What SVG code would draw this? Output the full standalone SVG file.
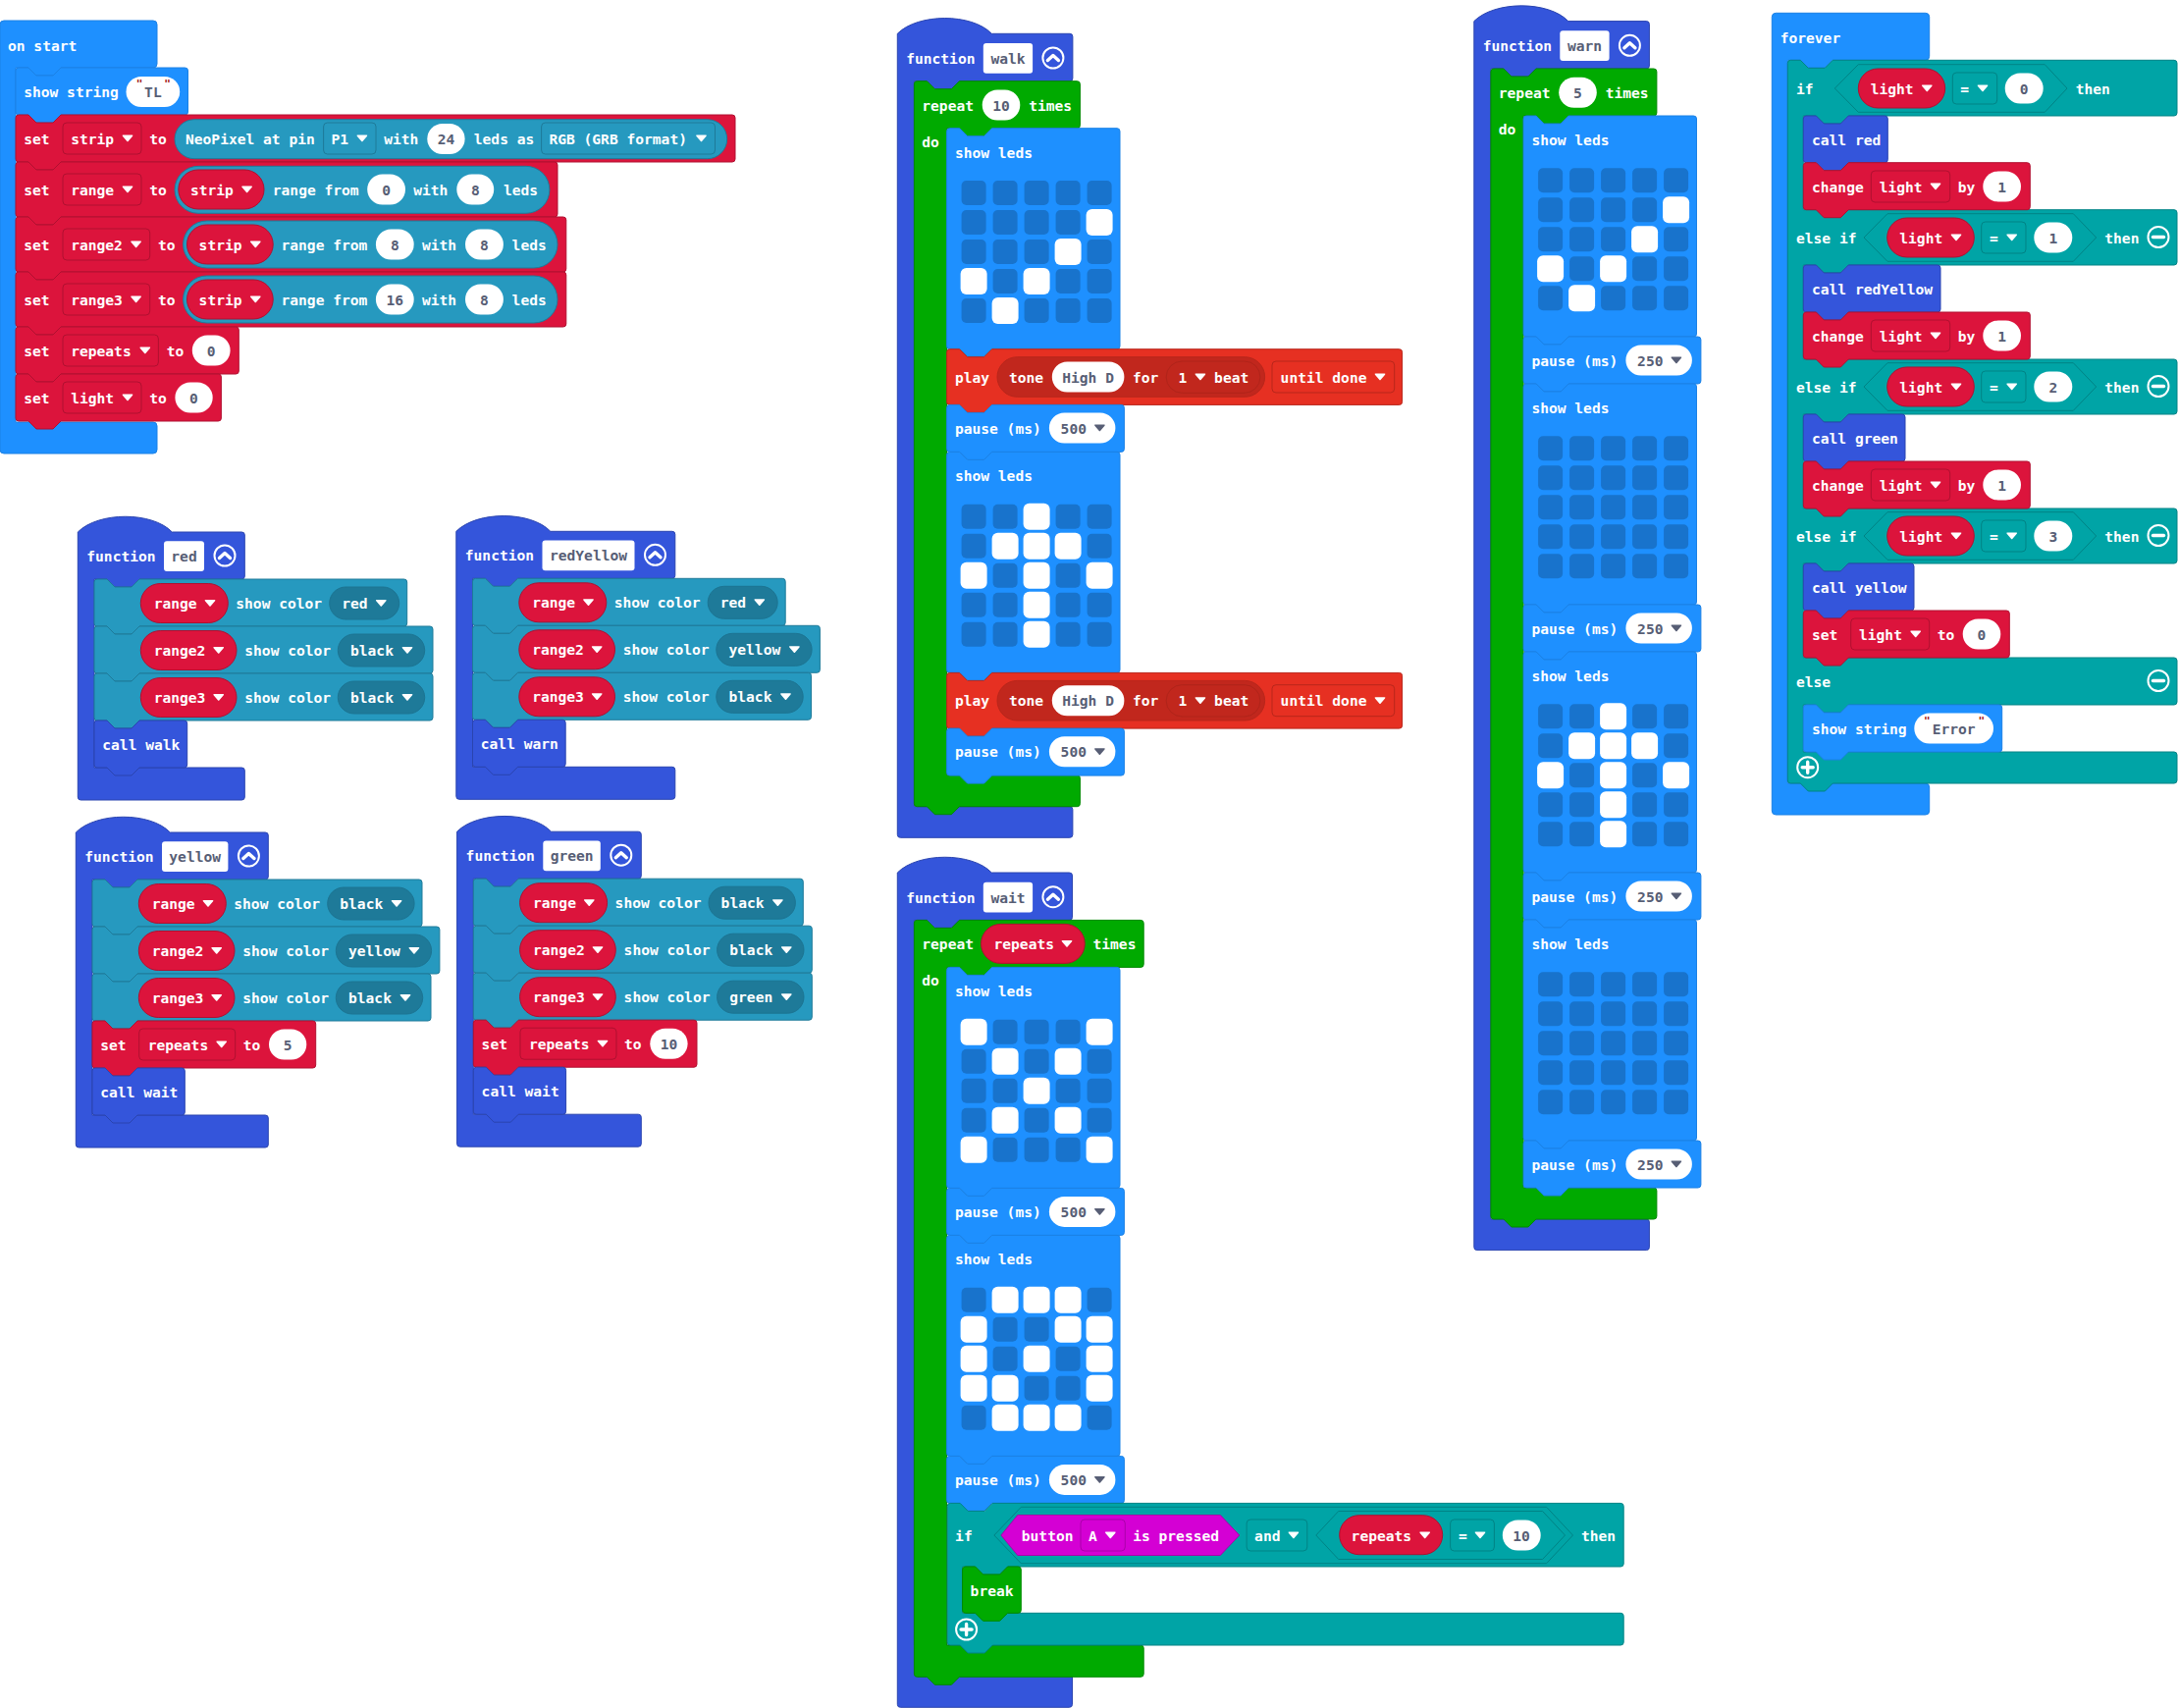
<svg xmlns="http://www.w3.org/2000/svg" width="2219" height="1740" viewBox="0 0 2219 1740">
<style>
text{font:bold 14.6px "DejaVu Sans Mono","Liberation Mono",monospace;fill:#fff;transform:translateY(.6px)}
.v{fill:#575E75;text-anchor:middle}
.q{fill:#A31515;font-size:11px;text-anchor:middle}
.ev{fill:#1E90FF;stroke:#1b81e5}
.var{fill:#DC143C;stroke:#B01030}
.np{fill:#2699BF;stroke:#1E7A99}
.fn{fill:#3455DB;stroke:#2A44AF}
.lp{fill:#00AA00;stroke:#008800}
.lg{fill:#00A4A6;stroke:#008385}
.mu{fill:#E63022;stroke:#B8261B}
.in{fill:#D400D4;stroke:#AA00AA}
.p{fill:#fff;height:31px;rx:15.5px}
.n{fill:#fff;height:30.7px;rx:3px}
.pr{fill:#DC143C;stroke:#B01030;height:40px;rx:20px}
.dn{fill:#1E7A99;stroke:#1C7492;height:33px;rx:16.5px}
.d{height:32px;rx:4px;fill:none}
.dv{stroke:#B01030}.dn2{stroke:#1E7A99}.dl{stroke:#008385}.dm{stroke:#B8261B}.di{stroke:#AA00AA}
.h{fill:#00A4A6;stroke:#008385}
use{fill:#fff}
.dk{fill:#575E75}
.ic{fill:none;stroke:#fff;stroke-width:2}
.ib{fill:none;stroke:#fff;stroke-width:3.4;stroke-linecap:round;stroke-linejoin:round}
.c{fill:#1873CC}
</style>
<defs>
<path id="a" d="M-4.5-3.5h9q1.5 0 .6 1.3L.8 2.8q-.8 1-1.6 0L-5.1-2.2q-.9-1.3.6-1.3z"/>
<g id="ex"><circle class="ic" r="10.5"/><path class="ib" d="M-5.5 2.5L0-2.5L5.5 2.5"/></g>
<g id="mi"><circle class="ic" r="10.5"/><path class="ib" d="M-5.5 0H5.5"/></g>
<g id="pl"><circle class="ic" r="10.5"/><path class="ib" d="M-5.5 0H5.5M0-5.5V5.5"/></g>
<rect id="w" x="-1" y="-1" width="27" height="27" rx="6" fill="#fff"/>
<g id="grid" class="c">
<rect width="25" height="25" rx="5"/><rect x="32" width="25" height="25" rx="5"/><rect x="64" width="25" height="25" rx="5"/><rect x="96" width="25" height="25" rx="5"/><rect x="128" width="25" height="25" rx="5"/>
<rect y="30" width="25" height="25" rx="5"/><rect x="32" y="30" width="25" height="25" rx="5"/><rect x="64" y="30" width="25" height="25" rx="5"/><rect x="96" y="30" width="25" height="25" rx="5"/><rect x="128" y="30" width="25" height="25" rx="5"/>
<rect y="60" width="25" height="25" rx="5"/><rect x="32" y="60" width="25" height="25" rx="5"/><rect x="64" y="60" width="25" height="25" rx="5"/><rect x="96" y="60" width="25" height="25" rx="5"/><rect x="128" y="60" width="25" height="25" rx="5"/>
<rect y="90" width="25" height="25" rx="5"/><rect x="32" y="90" width="25" height="25" rx="5"/><rect x="64" y="90" width="25" height="25" rx="5"/><rect x="96" y="90" width="25" height="25" rx="5"/><rect x="128" y="90" width="25" height="25" rx="5"/>
<rect y="120" width="25" height="25" rx="5"/><rect x="32" y="120" width="25" height="25" rx="5"/><rect x="64" y="120" width="25" height="25" rx="5"/><rect x="96" y="120" width="25" height="25" rx="5"/><rect x="128" y="120" width="25" height="25" rx="5"/>
</g>
<g id="step"><use href="#w" x="128" y="30"/><use href="#w" x="96" y="60"/><use href="#w" y="90"/><use href="#w" x="64" y="90"/><use href="#w" x="32" y="120"/></g>
<g id="arrowup"><use href="#w" x="64"/><use href="#w" x="32" y="30"/><use href="#w" x="64" y="30"/><use href="#w" x="96" y="30"/><use href="#w" y="60"/><use href="#w" x="64" y="60"/><use href="#w" x="128" y="60"/><use href="#w" x="64" y="90"/><use href="#w" x="64" y="120"/></g>
</defs>

<g id="on-start">
<path class="ev" d="M0 25q0-4 4-4H156q4 0 4 4V65q0 4-4 4H62l-8 8H37l-8-8H16V430H156q4 0 4 4V458q0 4-4 4H4q-4 0-4-4z"/>
<text x="8" y="51.5">on start</text>
<path class="ev" d="M16 72q0-3 3-3h10l8 8h17l8-8h126.500q3 0 3 3v42q0 3-3 3h-126.500l-8 8h-17l-8-8h-10q-3 0-3-3z"/>
<text x="24.200" y="98">show string</text><rect class="p" x="128.500" y="78" width="54.700"/><text class="q" x="142" y="88">"</text><text class="q" x="170.600" y="88">"</text><text class="v" x="155.900" y="98">TL</text>
<path class="var" d="M16 120q0-3 3-3h10l8 8h17l8-8h684q3 0 3 3v42q0 3-3 3h-684l-8 8h-17l-8-8h-10q-3 0-3-3z"/>
<text x="24.200" y="146">set</text><rect class="d dv" x="64" y="125" width="80"/><text x="72.200" y="146">strip</text><use href="#a" x="130" y="141"/><text x="152.200" y="146">to</text>
<rect class="np" x="178" y="121.700" width="562.700" height="40" rx="20"/><text x="189" y="146">NeoPixel at pin</text><rect class="d dn2" x="329.600" y="125" width="53.400"/><text x="337.400" y="146">P1</text><use href="#a" x="368.900" y="141"/><text x="391.200" y="146">with</text><rect class="p" x="435.300" y="126" width="38.300"/><text class="v" x="454.500" y="146">24</text><text x="482.800" y="146">leds as</text><rect class="d dn2" x="551.600" y="125" width="176.900"/><text x="559.400" y="146">RGB (GRB format)</text><use href="#a" x="714.500" y="141"/>
<path class="var" d="M16 168q0-3 3-3h10l8 8h17l8-8h503q3 0 3 3v50q0 3-3 3h-503l-8 8h-17l-8-8h-10q-3 0-3-3z"/>
<text x="24.200" y="198">set</text><rect class="d dv" x="64" y="177" width="80"/><text x="72.200" y="198">range</text><use href="#a" x="130" y="193"/><text x="152.200" y="198">to</text>
<rect class="np" x="178" y="169.300" width="381.900" height="48" rx="24"/><rect class="pr" x="181.800" y="173" width="87.200"/><text x="193.900" y="198">strip</text><use href="#a" x="251.600" y="193"/><text x="277.800" y="198">range from</text><rect class="p" x="374.200" y="177.500" width="38.800"/><text class="v" x="393.600" y="198">0</text><text x="421.200" y="198">with</text><rect class="p" x="465.300" y="177.500" width="37.900"/><text class="v" x="484.300" y="198">8</text><text x="512.900" y="198">leds</text>
<path class="var" d="M16 224q0-3 3-3h10l8 8h17l8-8h511.800q3 0 3 3v50q0 3-3 3h-511.800l-8 8h-17l-8-8h-10q-3 0-3-3z"/>
<text x="24.200" y="254">set</text><rect class="d dv" x="64" y="233" width="88.700"/><text x="72.200" y="254">range2</text><use href="#a" x="138.600" y="249"/><text x="160.900" y="254">to</text>
<rect class="np" x="186.600" y="225" width="381.400" height="48" rx="24"/><rect class="pr" x="190.500" y="229" width="87.700"/><text x="202.600" y="254">strip</text><use href="#a" x="260.300" y="249"/><text x="286.500" y="254">range from</text><rect class="p" x="382.900" y="233.500" width="38.800"/><text class="v" x="402.300" y="254">8</text><text x="430" y="254">with</text><rect class="p" x="474" y="233.500" width="38.900"/><text class="v" x="493.400" y="254">8</text><text x="521.600" y="254">leds</text>
<path class="var" d="M16 280q0-3 3-3h10l8 8h17l8-8h511.800q3 0 3 3v50q0 3-3 3h-511.800l-8 8h-17l-8-8h-10q-3 0-3-3z"/>
<text x="24.200" y="310">set</text><rect class="d dv" x="64" y="289" width="88.700"/><text x="72.200" y="310">range3</text><use href="#a" x="138.600" y="305"/><text x="160.900" y="310">to</text>
<rect class="np" x="186.600" y="281" width="381.400" height="48" rx="24"/><rect class="pr" x="190.500" y="285" width="87.700"/><text x="202.600" y="310">strip</text><use href="#a" x="260.300" y="305"/><text x="286.500" y="310">range from</text><rect class="p" x="382.900" y="289.500" width="38.800"/><text class="v" x="402.300" y="310">16</text><text x="430" y="310">with</text><rect class="p" x="474" y="289.500" width="38.900"/><text class="v" x="493.400" y="310">8</text><text x="521.600" y="310">leds</text>
<path class="var" d="M16 336q0-3 3-3h10l8 8h17l8-8h178.300q3 0 3 3v42q0 3-3 3h-178.300l-8 8h-17l-8-8h-10q-3 0-3-3z"/>
<text x="24.200" y="362">set</text><rect class="d dv" x="64" y="341" width="97.400"/><text x="72.200" y="362">repeats</text><use href="#a" x="147.800" y="357"/><text x="169.700" y="362">to</text><rect class="p" x="195.800" y="341.500" width="38.800"/><text class="v" x="215.200" y="362">0</text>
<path class="var" d="M16 384q0-3 3-3h10l8 8h17l8-8h160.400q3 0 3 3v42q0 3-3 3h-160.400l-8 8h-17l-8-8h-10q-3 0-3-3z"/>
<text x="24.200" y="410">set</text><rect class="d dv" x="64" y="389" width="80"/><text x="72.200" y="410">light</text><use href="#a" x="130" y="405"/><text x="152.200" y="410">to</text><rect class="p" x="178.400" y="389.500" width="38.300"/><text class="v" x="197.500" y="410">0</text>
</g>

<g id="fn-red">
<path class="fn" d="M79.300 542c21-21 76-21 96 0H246.300q3 0 3 3V587q0 3-3 3H142l-8 8h-17l-8-8H96V782H246.300q3 0 3 3V812q0 3-3 3H82.300q-3 0-3-3z"/>
<text x="88.300" y="571.500">function</text><rect class="n" x="167" y="551.300" width="41"/><text class="v" x="187.500" y="571.500">red</text><use href="#ex" x="229" y="566"/>
<path class="np" d="M96 593q0-3 3-3h10l8 8h17l8-8h269.700q3 0 3 3v42q0 3-3 3h-269.700l-8 8h-17l-8-8h-10q-3 0-3-3z"/>
<rect class="pr" x="143.300" y="594.500" width="89"/><text x="156.700" y="619.500">range</text><use href="#a" x="214" y="614.500"/><text x="240.300" y="619.500">show color</text><rect class="dn" x="335.700" y="598" width="71"/><text x="348.300" y="619.500">red</text><use href="#a" x="388.300" y="614.500"/>
<path class="np" d="M96 641q0-3 3-3h10l8 8h17l8-8h296q3 0 3 3v42q0 3-3 3h-296l-8 8h-17l-8-8h-10q-3 0-3-3z"/>
<rect class="pr" x="143.300" y="642.500" width="97.700"/><text x="156.700" y="667.500">range2</text><use href="#a" x="222.700" y="662.500"/><text x="249.300" y="667.500">show color</text><rect class="dn" x="344.300" y="646" width="88.400"/><text x="357" y="667.500">black</text><use href="#a" x="415" y="662.500"/>
<path class="np" d="M96 689q0-3 3-3h10l8 8h17l8-8h296q3 0 3 3v42q0 3-3 3h-296l-8 8h-17l-8-8h-10q-3 0-3-3z"/>
<rect class="pr" x="143.300" y="690.500" width="97.700"/><text x="156.700" y="715.500">range3</text><use href="#a" x="222.700" y="710.500"/><text x="249.300" y="715.500">show color</text><rect class="dn" x="344.300" y="694" width="88.400"/><text x="357" y="715.500">black</text><use href="#a" x="415" y="710.500"/>
<path class="fn" d="M96 737q0-3 3-3h10l8 8h17l8-8h45.700q3 0 3 3v42q0 3-3 3h-45.700l-8 8h-17l-8-8h-10q-3 0-3-3z"/>
<text x="104.300" y="763">call walk</text>
</g>

<g id="fn-redYellow" transform="translate(385.500 -0.700)">
<path class="fn" d="M79.300 542c21-21 76-21 96 0H299.300q3 0 3 3V587q0 3-3 3H142l-8 8h-17l-8-8H96V782H299.300q3 0 3 3V812q0 3-3 3H82.300q-3 0-3-3z"/>
<text x="88.300" y="571.500">function</text><rect class="n" x="167" y="551.300" width="94"/><text class="v" x="214" y="571.500">redYellow</text><use href="#ex" x="282" y="566"/>
<path class="np" d="M96 593q0-3 3-3h10l8 8h17l8-8h269.700q3 0 3 3v42q0 3-3 3h-269.700l-8 8h-17l-8-8h-10q-3 0-3-3z"/>
<rect class="pr" x="143.300" y="594.500" width="89"/><text x="156.700" y="619.500">range</text><use href="#a" x="214" y="614.500"/><text x="240.300" y="619.500">show color</text><rect class="dn" x="335.700" y="598" width="71"/><text x="348.300" y="619.500">red</text><use href="#a" x="388.300" y="614.500"/>
<path class="np" d="M96 641q0-3 3-3h10l8 8h17l8-8h304.900q3 0 3 3v42q0 3-3 3h-304.900l-8 8h-17l-8-8h-10q-3 0-3-3z"/>
<rect class="pr" x="143.300" y="642.500" width="97.700"/><text x="156.700" y="667.500">range2</text><use href="#a" x="222.700" y="662.500"/><text x="249.300" y="667.500">show color</text><rect class="dn" x="344.300" y="646" width="97.300"/><text x="357" y="667.500">yellow</text><use href="#a" x="423.900" y="662.500"/>
<path class="np" d="M96 689q0-3 3-3h10l8 8h17l8-8h296q3 0 3 3v42q0 3-3 3h-296l-8 8h-17l-8-8h-10q-3 0-3-3z"/>
<rect class="pr" x="143.300" y="690.500" width="97.700"/><text x="156.700" y="715.500">range3</text><use href="#a" x="222.700" y="710.500"/><text x="249.300" y="715.500">show color</text><rect class="dn" x="344.300" y="694" width="88.400"/><text x="357" y="715.500">black</text><use href="#a" x="415" y="710.500"/>
<path class="fn" d="M96 737q0-3 3-3h10l8 8h17l8-8h45.700q3 0 3 3v42q0 3-3 3h-45.700l-8 8h-17l-8-8h-10q-3 0-3-3z"/>
<text x="104.300" y="763">call warn</text>
</g>

<g id="fn-yellow" transform="translate(-2 306)">
<path class="fn" d="M79.300 542c21-21 76-21 96 0H272.300q3 0 3 3V587q0 3-3 3H142l-8 8h-17l-8-8H96V830H272.300q3 0 3 3V860q0 3-3 3H82.300q-3 0-3-3z"/>
<text x="88.300" y="571.500">function</text><rect class="n" x="167" y="551.300" width="67.400"/><text class="v" x="200.700" y="571.500">yellow</text><use href="#ex" x="255.400" y="566"/>
<path class="np" d="M96 593q0-3 3-3h10l8 8h17l8-8h287q3 0 3 3v42q0 3-3 3h-287l-8 8h-17l-8-8h-10q-3 0-3-3z"/>
<rect class="pr" x="143.300" y="594.500" width="89"/><text x="156.700" y="619.500">range</text><use href="#a" x="214" y="614.500"/><text x="240.300" y="619.500">show color</text><rect class="dn" x="335.700" y="598" width="88.400"/><text x="348.300" y="619.500">black</text><use href="#a" x="406.100" y="614.500"/>
<path class="np" d="M96 641q0-3 3-3h10l8 8h17l8-8h304.900q3 0 3 3v42q0 3-3 3h-304.900l-8 8h-17l-8-8h-10q-3 0-3-3z"/>
<rect class="pr" x="143.300" y="642.500" width="97.700"/><text x="156.700" y="667.500">range2</text><use href="#a" x="222.700" y="662.500"/><text x="249.300" y="667.500">show color</text><rect class="dn" x="344.300" y="646" width="97.300"/><text x="357" y="667.500">yellow</text><use href="#a" x="423.900" y="662.500"/>
<path class="np" d="M96 689q0-3 3-3h10l8 8h17l8-8h296q3 0 3 3v42q0 3-3 3h-296l-8 8h-17l-8-8h-10q-3 0-3-3z"/>
<rect class="pr" x="143.300" y="690.500" width="97.700"/><text x="156.700" y="715.500">range3</text><use href="#a" x="222.700" y="710.500"/><text x="249.300" y="715.500">show color</text><rect class="dn" x="344.300" y="694" width="88.400"/><text x="357" y="715.500">black</text><use href="#a" x="415" y="710.500"/>
<path class="var" d="M96 737q0-3 3-3h10l8 8h17l8-8h178.700q3 0 3 3v42q0 3-3 3h-178.700l-8 8h-17l-8-8h-10q-3 0-3-3z"/>
<text x="104.300" y="763">set</text><rect class="d dv" x="143.700" y="742" width="98"/><text x="152.700" y="763">repeats</text><use href="#a" x="227.700" y="758"/><text x="249.700" y="763">to</text><rect class="p" x="276" y="742.500" width="38.300"/><text class="v" x="295.200" y="763">5</text>
<path class="fn" d="M96 785q0-3 3-3h10l8 8h17l8-8h45.300q3 0 3 3v42q0 3-3 3h-45.300l-8 8h-17l-8-8h-10q-3 0-3-3z"/>
<text x="104.300" y="811">call wait</text>
</g>

<g id="fn-green" transform="translate(386.300 305.200)">
<path class="fn" d="M79.300 542c21-21 76-21 96 0H264q3 0 3 3V587q0 3-3 3H142l-8 8h-17l-8-8H96V830H264q3 0 3 3V860q0 3-3 3H82.300q-3 0-3-3z"/>
<text x="88.300" y="571.500">function</text><rect class="n" x="167" y="551.300" width="58.500"/><text class="v" x="196.300" y="571.500">green</text><use href="#ex" x="246.500" y="566"/>
<path class="np" d="M96 593q0-3 3-3h10l8 8h17l8-8h287q3 0 3 3v42q0 3-3 3h-287l-8 8h-17l-8-8h-10q-3 0-3-3z"/>
<rect class="pr" x="143.300" y="594.500" width="89"/><text x="156.700" y="619.500">range</text><use href="#a" x="214" y="614.500"/><text x="240.300" y="619.500">show color</text><rect class="dn" x="335.700" y="598" width="88.400"/><text x="348.300" y="619.500">black</text><use href="#a" x="406.100" y="614.500"/>
<path class="np" d="M96 641q0-3 3-3h10l8 8h17l8-8h296q3 0 3 3v42q0 3-3 3h-296l-8 8h-17l-8-8h-10q-3 0-3-3z"/>
<rect class="pr" x="143.300" y="642.500" width="97.700"/><text x="156.700" y="667.500">range2</text><use href="#a" x="222.700" y="662.500"/><text x="249.300" y="667.500">show color</text><rect class="dn" x="344.300" y="646" width="88.400"/><text x="357" y="667.500">black</text><use href="#a" x="415" y="662.500"/>
<path class="np" d="M96 689q0-3 3-3h10l8 8h17l8-8h296q3 0 3 3v42q0 3-3 3h-296l-8 8h-17l-8-8h-10q-3 0-3-3z"/>
<rect class="pr" x="143.300" y="690.500" width="97.700"/><text x="156.700" y="715.500">range3</text><use href="#a" x="222.700" y="710.500"/><text x="249.300" y="715.500">show color</text><rect class="dn" x="344.300" y="694" width="88.400"/><text x="357" y="715.500">green</text><use href="#a" x="415" y="710.500"/>
<path class="var" d="M96 737q0-3 3-3h10l8 8h17l8-8h178.700q3 0 3 3v42q0 3-3 3h-178.700l-8 8h-17l-8-8h-10q-3 0-3-3z"/>
<text x="104.300" y="763">set</text><rect class="d dv" x="143.700" y="742" width="98"/><text x="152.700" y="763">repeats</text><use href="#a" x="227.700" y="758"/><text x="249.700" y="763">to</text><rect class="p" x="276" y="742.500" width="38.300"/><text class="v" x="295.200" y="763">10</text>
<path class="fn" d="M96 785q0-3 3-3h10l8 8h17l8-8h45.300q3 0 3 3v42q0 3-3 3h-45.300l-8 8h-17l-8-8h-10q-3 0-3-3z"/>
<text x="104.300" y="811">call wait</text>
</g>

<g id="fn-walk">
<path class="fn" d="M914.300 34.300c21-21 76-21 96 0H1089.900q3 0 3 3V79.700q0 3-3 3H977.400l-8 8h-17l-8-8H931.400V821.700H1089.900q3 0 3 3V850.300q0 3-3 3H917.300q-3 0-3-3z"/>
<text x="923.200" y="64.300">function</text><rect class="n" x="1001.800" y="44" width="50.300"/><text class="v" x="1027" y="64.300">walk</text><use href="#ex" x="1072.900" y="59"/>
<path class="lp" d="M931.400 85.700q0-3 3-3h10l8 8h17l8-8H1097.400q3 0 3 3V127.700q0 3-3 3H1010.600l-8 8h-17l-8-8H964.600V789.700H1097.400q3 0 3 3V818.700q0 3-3 3H977.400l-8 8h-17l-8-8H934.400q-3 0-3-3z"/>
<text x="939.300" y="112">repeat</text><rect class="p" x="1000.700" y="91.500" width="38.600"/><text class="v" x="1020" y="112">10</text><text x="1048.200" y="112">times</text><text x="939.300" y="149">do</text>
<path class="ev" d="M964.600 133.700q0-3 3-3h10l8 8h17l8-8h127.400q3 0 3 3v219q0 3-3 3h-127.400l-8 8h-17l-8-8h-10q-3 0-3-3z"/>
<text x="972.900" y="160.200">show leds</text>
<g transform="translate(979.600 184)"><use href="#grid" class="c"/><use href="#step"/></g>
<path class="mu" d="M964.600 358.700q0-3 3-3h10l8 8h17l8-8h415q3 0 3 3v50.700q0 3-3 3h-415l-8 8h-17l-8-8h-10q-3 0-3-3z"/>
<text x="972.900" y="389">play</text><rect x="1016" y="363.700" width="272.600" height="40.600" rx="20.300" fill="#C1271D" stroke="#B8261B"/><text x="1027.900" y="389">tone</text><rect class="p" x="1071.800" y="368.500" width="73.600"/><text class="v" x="1108.600" y="389">High D</text><text x="1153.900" y="389">for</text><rect x="1188.200" y="368" width="95.700" height="32.300" rx="16" fill="#C1271D" stroke="#B0241A"/><text x="1200.400" y="389">1</text><use href="#a" x="1222.900" y="384"/><text x="1237.100" y="389">beat</text><rect class="d dm" x="1296" y="368" width="124.700"/><text x="1304.600" y="389">until done</text><use href="#a" x="1406" y="384"/>
<path class="ev" d="M964.600 415.400q0-3 3-3h10l8 8h17l8-8h131.800q3 0 3 3v42q0 3-3 3h-131.800l-8 8h-17l-8-8h-10q-3 0-3-3z"/>
<text x="972.900" y="441">pause (ms)</text><rect class="p" x="1068.900" y="420.500" width="67.500"/><text class="v" x="1093.800" y="441">500</text><use href="#a" class="dk" x="1120.400" y="436"/>
<path class="ev" d="M964.600 463.400q0-3 3-3h10l8 8h17l8-8h127.400q3 0 3 3v219q0 3-3 3h-127.400l-8 8h-17l-8-8h-10q-3 0-3-3z"/>
<text x="972.900" y="489.900">show leds</text>
<g transform="translate(979.600 513.700)"><use href="#grid" class="c"/><use href="#arrowup"/></g>
<path class="mu" d="M964.600 688.400q0-3 3-3h10l8 8h17l8-8h415q3 0 3 3v50.700q0 3-3 3h-415l-8 8h-17l-8-8h-10q-3 0-3-3z"/>
<text x="972.900" y="718.700">play</text><rect x="1016" y="693.400" width="272.600" height="40.600" rx="20.300" fill="#C1271D" stroke="#B8261B"/><text x="1027.900" y="718.700">tone</text><rect class="p" x="1071.800" y="698.200" width="73.600"/><text class="v" x="1108.600" y="718.700">High D</text><text x="1153.900" y="718.700">for</text><rect x="1188.200" y="697.700" width="95.700" height="32.300" rx="16" fill="#C1271D" stroke="#B0241A"/><text x="1200.400" y="718.700">1</text><use href="#a" x="1222.900" y="713.700"/><text x="1237.100" y="718.700">beat</text><rect class="d dm" x="1296" y="697.700" width="124.700"/><text x="1304.600" y="718.700">until done</text><use href="#a" x="1406" y="713.700"/>
<path class="ev" d="M964.600 745.100q0-3 3-3h10l8 8h17l8-8h131.800q3 0 3 3v42q0 3-3 3h-131.800l-8 8h-17l-8-8h-10q-3 0-3-3z"/>
<text x="972.900" y="770.700">pause (ms)</text><rect class="p" x="1068.900" y="750.200" width="67.500"/><text class="v" x="1093.800" y="770.700">500</text><use href="#a" class="dk" x="1120.400" y="765.700"/>
</g>

<g id="fn-wait">
<path class="fn" d="M914.300 889c21-21 76-21 96 0H1089.500q3 0 3 3V934.400q0 3-3 3H977.400l-8 8h-17l-8-8H931.400V1676H1089.500q3 0 3 3V1736.300q0 3-3 3H917.300q-3 0-3-3z"/>
<text x="923.200" y="919">function</text><rect class="n" x="1001.800" y="898.700" width="50.300"/><text class="v" x="1027" y="919">wait</text><use href="#ex" x="1072.900" y="913.700"/>
<path class="lp" d="M931.400 940.400q0-3 3-3h10l8 8h17l8-8H1162.200q3 0 3 3V982.400q0 3-3 3H1010.600l-8 8h-17l-8-8H964.600V1676H1162.200q3 0 3 3V1705.300q0 3-3 3H977.400l-8 8h-17l-8-8H934.400q-3 0-3-3z"/>
<text x="939.300" y="966.400">repeat</text><rect class="pr" x="999.500" y="941.400" width="105.700"/><text x="1012.500" y="966.400">repeats</text><use href="#a" x="1087" y="961.400"/><text x="1113.500" y="966.400">times</text><text x="939.300" y="1003.700">do</text>
<path class="ev" d="M964.600 988.400q0-3 3-3h10l8 8h17l8-8h127.400q3 0 3 3v219q0 3-3 3h-127.400l-8 8h-17l-8-8h-10q-3 0-3-3z"/>
<text x="972.900" y="1014.900">show leds</text>
<g transform="translate(979.600 1038.700)"><use href="#grid" class="c"/><use href="#w"/><use href="#w" x="128"/><use href="#w" x="32" y="30"/><use href="#w" x="96" y="30"/><use href="#w" x="64" y="60"/><use href="#w" x="32" y="90"/><use href="#w" x="96" y="90"/><use href="#w" y="120"/><use href="#w" x="128" y="120"/></g>
<path class="ev" d="M964.600 1213.400q0-3 3-3h10l8 8h17l8-8h131.800q3 0 3 3v42q0 3-3 3h-131.800l-8 8h-17l-8-8h-10q-3 0-3-3z"/>
<text x="972.900" y="1239.400">pause (ms)</text><rect class="p" x="1068.900" y="1218.900" width="67.500"/><text class="v" x="1093.800" y="1239.400">500</text><use href="#a" class="dk" x="1120.400" y="1234.400"/>
<path class="ev" d="M964.600 1261.400q0-3 3-3h10l8 8h17l8-8h127.400q3 0 3 3v219q0 3-3 3h-127.400l-8 8h-17l-8-8h-10q-3 0-3-3z"/>
<text x="972.900" y="1287.900">show leds</text>
<g transform="translate(979.600 1311.700)"><use href="#grid" class="c"/><use href="#w" x="32"/><use href="#w" x="64"/><use href="#w" x="96"/><use href="#w" y="30"/><use href="#w" x="96" y="30"/><use href="#w" x="128" y="30"/><use href="#w" y="60"/><use href="#w" x="64" y="60"/><use href="#w" x="128" y="60"/><use href="#w" y="90"/><use href="#w" x="32" y="90"/><use href="#w" x="128" y="90"/><use href="#w" x="32" y="120"/><use href="#w" x="64" y="120"/><use href="#w" x="96" y="120"/></g>
<path class="ev" d="M964.600 1486.400q0-3 3-3h10l8 8h17l8-8h131.800q3 0 3 3v42q0 3-3 3h-131.800l-8 8h-17l-8-8h-10q-3 0-3-3z"/>
<text x="972.900" y="1512.400">pause (ms)</text><rect class="p" x="1068.900" y="1491.900" width="67.500"/><text class="v" x="1093.800" y="1512.400">500</text><use href="#a" class="dk" x="1120.400" y="1507.400"/>
<path class="lg" d="M965.200 1534.400q0-3 3-3h10l8 8h17l8-8H1651.200q3 0 3 3V1593q0 3-3 3H1026.600l-8 8h-17l-8-8H980.600V1643.300H1651.200q3 0 3 3V1673q0 3-3 3H1011.200l-8 8h-17l-8-8H968.200q-3 0-3-3z"/>
<text x="973.100" y="1569.300">if</text>
<polygon class="h" points="1012.900,1564 1040.300,1535.300 1575.600,1535.300 1602.500,1564 1575.600,1592.700 1040.300,1592.700"/>
<polygon class="in" points="1019.900,1564 1036.800,1543.500 1243.300,1543.500 1262.700,1564 1243.300,1584.500 1036.800,1584.500"/>
<text x="1040.800" y="1569.300">button</text><rect class="d di" x="1101" y="1548" width="45.300"/><text x="1109" y="1569.300">A</text><use href="#a" x="1131.300" y="1564"/><text x="1154.200" y="1569.300">is pressed</text>
<rect class="d dl" x="1270.100" y="1548" width="61.700"/><text x="1278.100" y="1569.300">and</text><use href="#a" x="1317.900" y="1564"/>
<polygon class="h" points="1340.800,1564 1363.700,1539.500 1571.600,1539.500 1594.500,1564 1571.600,1588.500 1363.700,1588.500"/>
<rect class="pr" x="1364.700" y="1543.700" width="105"/><text x="1376.600" y="1569.300">repeats</text><use href="#a" x="1451.700" y="1564"/>
<rect class="d dl" x="1477.600" y="1548" width="44.800"/><text x="1486" y="1569.300">=</text><use href="#a" x="1508" y="1564"/>
<rect class="p" x="1530.800" y="1548.500" width="38.900"/><text class="v" x="1550" y="1569.300">10</text>
<text x="1611" y="1569.300">then</text>
<path class="lp" d="M980.600 1599q0-3 3-3h10l8 8h17l8-8h10.700q3 0 3 3v41.300q0 3-3 3h-10.700l-8 8h-17l-8-8h-10q-3 0-3-3z"/>
<text x="988.600" y="1625.700">break</text>
<use href="#pl" x="984.600" y="1660"/>
</g>

<g id="fn-warn" transform="translate(587.500 -12.700)">
<path class="fn" d="M914.300 34.300c21-21 76-21 96 0H1089.900q3 0 3 3V79.700q0 3-3 3H977.400l-8 8h-17l-8-8H931.400V1254.700H1089.900q3 0 3 3V1283.300q0 3-3 3H917.300q-3 0-3-3z"/>
<text x="923.200" y="64.300">function</text><rect class="n" x="1001.800" y="44" width="50.300"/><text class="v" x="1027" y="64.300">warn</text><use href="#ex" x="1072.900" y="59"/>
<path class="lp" d="M931.400 85.700q0-3 3-3h10l8 8h17l8-8H1097.400q3 0 3 3V127.700q0 3-3 3H1010.600l-8 8h-17l-8-8H964.600V1222.700H1097.400q3 0 3 3V1251.700q0 3-3 3H977.400l-8 8h-17l-8-8H934.400q-3 0-3-3z"/>
<text x="939.300" y="112">repeat</text><rect class="p" x="1000.700" y="91.500" width="38.600"/><text class="v" x="1020" y="112">5</text><text x="1048.200" y="112">times</text><text x="939.300" y="149">do</text>
<path class="ev" d="M964.600 133.700q0-3 3-3h10l8 8h17l8-8h127.400q3 0 3 3v219q0 3-3 3h-127.400l-8 8h-17l-8-8h-10q-3 0-3-3z"/>
<text x="972.900" y="160.200">show leds</text>
<g transform="translate(979.600 184)"><use href="#grid" class="c"/><use href="#step"/></g>
<path class="ev" d="M964.600 358.700q0-3 3-3h10l8 8h17l8-8h131.800q3 0 3 3v42q0 3-3 3h-131.800l-8 8h-17l-8-8h-10q-3 0-3-3z"/>
<text x="972.900" y="384.700">pause (ms)</text><rect class="p" x="1068.900" y="364.200" width="67.500"/><text class="v" x="1093.800" y="384.700">250</text><use href="#a" class="dk" x="1120.400" y="379.700"/>
<path class="ev" d="M964.600 406.700q0-3 3-3h10l8 8h17l8-8h127.400q3 0 3 3v219q0 3-3 3h-127.400l-8 8h-17l-8-8h-10q-3 0-3-3z"/>
<text x="972.900" y="433.200">show leds</text>
<g transform="translate(979.600 457)"><use href="#grid" class="c"/></g>
<path class="ev" d="M964.600 631.700q0-3 3-3h10l8 8h17l8-8h131.800q3 0 3 3v42q0 3-3 3h-131.800l-8 8h-17l-8-8h-10q-3 0-3-3z"/>
<text x="972.900" y="657.700">pause (ms)</text><rect class="p" x="1068.900" y="637.200" width="67.500"/><text class="v" x="1093.800" y="657.700">250</text><use href="#a" class="dk" x="1120.400" y="652.700"/>
<path class="ev" d="M964.600 679.700q0-3 3-3h10l8 8h17l8-8h127.400q3 0 3 3v219q0 3-3 3h-127.400l-8 8h-17l-8-8h-10q-3 0-3-3z"/>
<text x="972.900" y="706.200">show leds</text>
<g transform="translate(979.600 730)"><use href="#grid" class="c"/><use href="#arrowup"/></g>
<path class="ev" d="M964.600 904.700q0-3 3-3h10l8 8h17l8-8h131.800q3 0 3 3v42q0 3-3 3h-131.800l-8 8h-17l-8-8h-10q-3 0-3-3z"/>
<text x="972.900" y="930.700">pause (ms)</text><rect class="p" x="1068.900" y="910.200" width="67.500"/><text class="v" x="1093.800" y="930.700">250</text><use href="#a" class="dk" x="1120.400" y="925.700"/>
<path class="ev" d="M964.600 952.700q0-3 3-3h10l8 8h17l8-8h127.400q3 0 3 3v219q0 3-3 3h-127.400l-8 8h-17l-8-8h-10q-3 0-3-3z"/>
<text x="972.900" y="979.200">show leds</text>
<g transform="translate(979.600 1003)"><use href="#grid" class="c"/></g>
<path class="ev" d="M964.600 1177.700q0-3 3-3h10l8 8h17l8-8h131.800q3 0 3 3v42q0 3-3 3h-131.800l-8 8h-17l-8-8h-10q-3 0-3-3z"/>
<text x="972.900" y="1203.700">pause (ms)</text><rect class="p" x="1068.900" y="1183.200" width="67.500"/><text class="v" x="1093.800" y="1203.700">250</text><use href="#a" class="dk" x="1120.400" y="1198.700"/>
</g>

<g id="forever">
<path class="ev" d="M1805.300 17.300q0-4 4-4H1961.700q4 0 4 4V57.300q0 4-4 4H1867.300l-8 8h-17l-8-8H1821.300V798H1961.700q4 0 4 4V826q0 4-4 4H1809.300q-4 0-4-4z"/>
<text x="1813.700" y="43.300">forever</text>
<path class="lg" d="M1821.300 64.300q0-3 3-3h10l8 8h17l8-8H2215q3 0 3 3V115q0 3-3 3H1883.300l-8 8h-17l-8-8H1837.300V213.700H2215q3 0 3 3V267q0 3-3 3H1883.300l-8 8h-17l-8-8H1837.300V366H2215q3 0 3 3V419q0 3-3 3H1883.300l-8 8h-17l-8-8H1837.300V518H2215q3 0 3 3V571q0 3-3 3H1883.300l-8 8h-17l-8-8H1837.300V670H2215q3 0 3 3V715q0 3-3 3H1883.300l-8 8h-17l-8-8H1837.300V766H2215q3 0 3 3V795q0 3-3 3H1867.300l-8 8h-17l-8-8H1824.300q-3 0-3-3z"/>
<text x="1830" y="95">if</text>
<polygon class="h" points="1869.300,90 1893.300,65.700 2083.300,65.700 2106,90 2083.300,114.300 1893.300,114.300"/>
<rect class="pr" x="1893.300" y="70" width="88.400"/><text x="1905.700" y="95">light</text><use href="#a" x="1963.300" y="90"/><rect class="d dl" x="1989.300" y="74" width="45.400"/><text x="1997.300" y="95">=</text><use href="#a" x="2020" y="90"/><rect class="p" x="2042.700" y="74.500" width="39"/><text class="v" x="2062.200" y="95">0</text><text x="2114.700" y="95">then</text>
<path class="fn" d="M1837.300 121q0-3 3-3h10l8 8h17l8-8h37q3 0 3 3v41.700q0 3-3 3h-37l-8 8h-17l-8-8h-10q-3 0-3-3z"/>
<text x="1846" y="147.700">call red</text>
<path class="var" d="M1837.300 168.700q0-3 3-3h10l8 8h17l8-8h182q3 0 3 3v42q0 3-3 3h-182l-8 8h-17l-8-8h-10q-3 0-3-3z"/>
<text x="1846" y="195">change</text><rect class="d dv" x="1906.300" y="174" width="80.400"/><text x="1914.700" y="195">light</text><use href="#a" x="1972" y="190"/><text x="1994.700" y="195">by</text><rect class="p" x="2020.300" y="174.500" width="38.700"/><text class="v" x="2039.700" y="195">1</text>

<text x="1830" y="247">else if</text>
<polygon class="h" points="1899,242 1923,217.700 2112.300,217.700 2135.700,242 2112.300,266.300 1923,266.300"/>
<rect class="pr" x="1922.700" y="222" width="88.600"/><text x="1935.300" y="247">light</text><use href="#a" x="1993" y="242"/><rect class="d dl" x="2018.700" y="226" width="45.300"/><text x="2027" y="247">=</text><use href="#a" x="2049.700" y="242"/><rect class="p" x="2072.300" y="226.500" width="39"/><text class="v" x="2091.800" y="247">1</text><text x="2144.300" y="247">then</text><use href="#mi" x="2199" y="241.500"/>
<path class="fn" d="M1837.300 273q0-3 3-3h10l8 8h17l8-8h90.700q3 0 3 3v42q0 3-3 3h-90.700l-8 8h-17l-8-8h-10q-3 0-3-3z"/>
<text x="1846" y="299">call redYellow</text>
<path class="var" d="M1837.300 321q0-3 3-3h10l8 8h17l8-8h182q3 0 3 3v42q0 3-3 3h-182l-8 8h-17l-8-8h-10q-3 0-3-3z"/>
<text x="1846" y="347">change</text><rect class="d dv" x="1906.300" y="326" width="80.400"/><text x="1914.700" y="347">light</text><use href="#a" x="1972" y="342"/><text x="1994.700" y="347">by</text><rect class="p" x="2020.300" y="326.500" width="38.700"/><text class="v" x="2039.700" y="347">1</text>

<text x="1830" y="399">else if</text>
<polygon class="h" points="1899,394 1923,369.700 2112.300,369.700 2135.700,394 2112.300,418.300 1923,418.300"/>
<rect class="pr" x="1922.700" y="374" width="88.600"/><text x="1935.300" y="399">light</text><use href="#a" x="1993" y="394"/><rect class="d dl" x="2018.700" y="378" width="45.300"/><text x="2027" y="399">=</text><use href="#a" x="2049.700" y="394"/><rect class="p" x="2072.300" y="378.500" width="39"/><text class="v" x="2091.800" y="399">2</text><text x="2144.300" y="399">then</text><use href="#mi" x="2199" y="393.500"/>
<path class="fn" d="M1837.300 425q0-3 3-3h10l8 8h17l8-8h54.700q3 0 3 3v42q0 3-3 3h-54.700l-8 8h-17l-8-8h-10q-3 0-3-3z"/>
<text x="1846" y="451">call green</text>
<path class="var" d="M1837.300 473q0-3 3-3h10l8 8h17l8-8h182q3 0 3 3v42q0 3-3 3h-182l-8 8h-17l-8-8h-10q-3 0-3-3z"/>
<text x="1846" y="499">change</text><rect class="d dv" x="1906.300" y="478" width="80.400"/><text x="1914.700" y="499">light</text><use href="#a" x="1972" y="494"/><text x="1994.700" y="499">by</text><rect class="p" x="2020.300" y="478.500" width="38.700"/><text class="v" x="2039.700" y="499">1</text>

<text x="1830" y="551">else if</text>
<polygon class="h" points="1899,546 1923,521.700 2112.300,521.700 2135.700,546 2112.300,570.300 1923,570.300"/>
<rect class="pr" x="1922.700" y="526" width="88.600"/><text x="1935.300" y="551">light</text><use href="#a" x="1993" y="546"/><rect class="d dl" x="2018.700" y="530" width="45.300"/><text x="2027" y="551">=</text><use href="#a" x="2049.700" y="546"/><rect class="p" x="2072.300" y="530.500" width="39"/><text class="v" x="2091.800" y="551">3</text><text x="2144.300" y="551">then</text><use href="#mi" x="2199" y="545.500"/>
<path class="fn" d="M1837.300 577q0-3 3-3h10l8 8h17l8-8h63.700q3 0 3 3v42q0 3-3 3h-63.700l-8 8h-17l-8-8h-10q-3 0-3-3z"/>
<text x="1846" y="603">call yellow</text>
<path class="var" d="M1837.300 625q0-3 3-3h10l8 8h17l8-8h161q3 0 3 3v42q0 3-3 3h-161l-8 8h-17l-8-8h-10q-3 0-3-3z"/>
<text x="1846" y="651">set</text><rect class="d dv" x="1885.700" y="630" width="80"/><text x="1894" y="651">light</text><use href="#a" x="1951.700" y="646"/><text x="1973.700" y="651">to</text><rect class="p" x="1999.700" y="630.500" width="38.600"/><text class="v" x="2019" y="651">0</text>

<text x="1830" y="699.700">else</text><use href="#mi" x="2199" y="693.500"/>
<path class="ev" d="M1837.300 721q0-3 3-3h10l8 8h17l8-8h153.400q3 0 3 3v42q0 3-3 3h-153.400l-8 8h-17l-8-8h-10q-3 0-3-3z"/>
<text x="1846" y="747">show string</text><rect class="p" x="1950.300" y="726.500" width="80.700"/><text class="q" x="1963.300" y="737">"</text><text class="q" x="2018.700" y="737">"</text><text class="v" x="1990.700" y="747">Error</text>
<use href="#pl" x="1841.700" y="781.700"/>
</g>
</svg>
